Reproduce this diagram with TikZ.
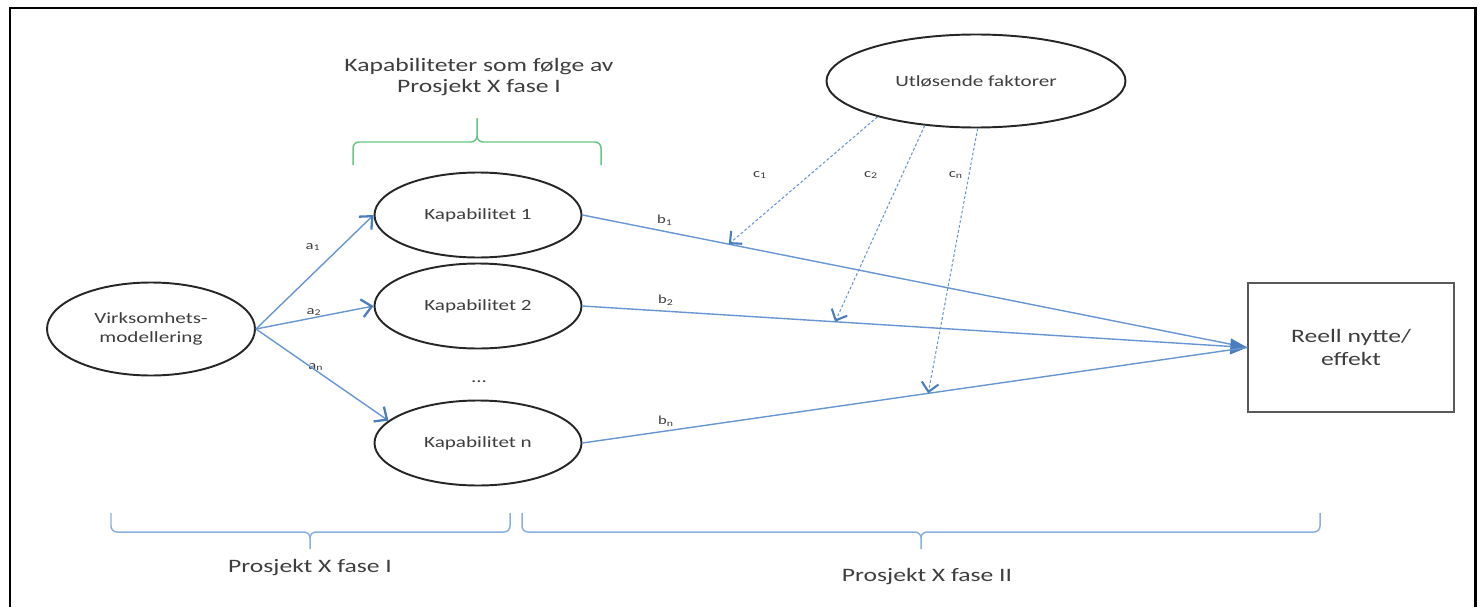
\documentclass[tikz,border=0pt]{standalone}
\usepackage{fontspec}
\setmainfont{Carlito}[FakeStretch=1.35]
\usetikzlibrary{shapes.geometric}
\usetikzlibrary{arrows.meta}

\definecolor{lineblue}{RGB}{104,150,208}
\definecolor{tipblue}{RGB}{74,126,190}
\definecolor{bracegreen}{RGB}{104,198,134}
\definecolor{braceblue}{RGB}{140,176,222}
\definecolor{textgray}{RGB}{62,62,62}

\begin{document}
\begin{tikzpicture}[
        oval/.style={draw=black!85, line width=1.1pt, ellipse, inner sep=0pt,
            minimum width=4.14cm, minimum height=1.70cm, align=center,
            text=textgray, font=\fontsize{8.9}{10.6}\selectfont},
        effectbox/.style={draw=black!65, line width=0.8pt, rectangle, inner sep=0pt,
            minimum width=4.12cm, minimum height=2.58cm, align=center,
            text=textgray, font=\fontsize{10.8}{12.8}\selectfont},
        heading/.style={align=center, text=textgray, font=\fontsize{10.8}{12.4}\selectfont},
        coef/.style={text=textgray, inner sep=1pt, font=\fontsize{7}{7.5}\selectfont},
        aarrow/.style={draw=lineblue, line width=0.8pt,
            -{Straight Barb[length=2mm,width=3.6mm,line width=1.3pt,color=tipblue]}},
        bline/.style={draw=lineblue, line width=0.8pt},
        carrow/.style={draw=lineblue, line width=0.6pt, dash pattern=on 1.6pt off 1.2pt,
            -{Straight Barb[length=1.8mm,width=3.4mm,line width=1.2pt,color=tipblue]}},
        bracket/.style={line width=0.85pt, rounded corners=1.2mm}
    ]
                \useasboundingbox (0,0) rectangle (29.64,12.14);

                \coordinate (V) at (3.02,5.56);
                \coordinate (K1) at (9.56,7.84);
                \coordinate (K2) at (9.56,6.02);
                \coordinate (KN) at (9.56,3.28);
                \coordinate (U) at (19.52,10.52);
                \coordinate (R) at (27.02,5.19);

                % frame
                \draw[line width=1.7pt] (0.2,0) -- (0.2,11.98) -- (29.5,11.98) -- (29.5,0);

                \node[oval, minimum width=4.16cm, minimum height=1.86cm] (virk) at (V) {Virksomhets-\\modellering};
                \node[oval] (k1) at (K1) {Kapabilitet 1};
                \node[oval] (k2) at (K2) {Kapabilitet 2};
                \node[oval] (kn) at (KN) {Kapabilitet n};
                \node[anchor=base, text=textgray, font=\fontsize{8.9}{10.6}\selectfont] (dots) at (9.58,4.50) {...};
                \node[oval, minimum width=5.98cm, minimum height=1.86cm] (trig) at (U) {Utløsende faktorer};
                \node[effectbox] (effect) at (R) {Reell nytte/\\effekt};

                \node[heading] (title) at (9.58,10.60) {Kapabiliteter som følge av\\Prosjekt X fase I};
                \node[heading] (faseI) at (6.20,0.78) {Prosjekt X fase I};
                \node[heading] (faseII) at (18.54,0.60) {Prosjekt X fase II};

                \node[coef] (la1) at (6.26,7.20) {a\textsubscript{1}};
                \node[coef] (la2) at (6.28,5.90) {a\textsubscript{2}};
                \node[coef] (lan) at (6.32,4.80) {a\textsubscript{n}};
                \node[coef] (lb1) at (13.30,7.74) {b\textsubscript{1}};
                \node[coef] (lb2) at (13.32,6.14) {b\textsubscript{2}};
                \node[coef] (lbn) at (13.32,3.72) {b\textsubscript{n}};
                \node[coef] (lc1) at (15.20,8.64) {c\textsubscript{1}};
                \node[coef] (lc2) at (17.42,8.64) {c\textsubscript{2}};
                \node[coef] (lcn) at (19.12,8.64) {c\textsubscript{n}};

                % braces
                \draw[bracket, bracegreen] (7.06,8.84) -- (7.06,9.30) -- (9.54,9.30) -- (9.54,9.78)
                    (12.02,8.84) -- (12.02,9.30) -- (9.54,9.30) -- (9.54,9.78);
                \draw[bracket, braceblue] (2.22,1.88) -- (2.22,1.50) -- (6.20,1.50) -- (6.20,1.16)
                    (10.20,1.88) -- (10.20,1.50) -- (6.20,1.50) -- (6.20,1.16);
                \draw[bracket, braceblue] (10.44,1.88) -- (10.44,1.50) -- (18.42,1.50) -- (18.42,1.16)
                    (26.40,1.88) -- (26.40,1.50) -- (18.42,1.50) -- (18.42,1.16);

                \draw[aarrow] (virk.east) -- (k1.west);
                \draw[aarrow] (virk.east) -- (k2.west);
                \draw[aarrow] (virk.east) -- (kn.166);

                \draw[bline] (k1.east) -- coordinate[pos=0.22] (t1) (effect.west);
                \draw[bline, -{Triangle[length=3.4mm,width=3.2mm,color=tipblue]}] (k2.east) -- coordinate[pos=0.38] (t2) (effect.west);
                \draw[bline] (kn.east) -- coordinate[pos=0.52] (tn) (effect.west);

                \draw[carrow] (trig.200) -- (t1);
                \draw[carrow] (trig.221) -- (t2);
                \draw[carrow] (trig.272) -- (tn);
            \end{tikzpicture}
\end{document}
